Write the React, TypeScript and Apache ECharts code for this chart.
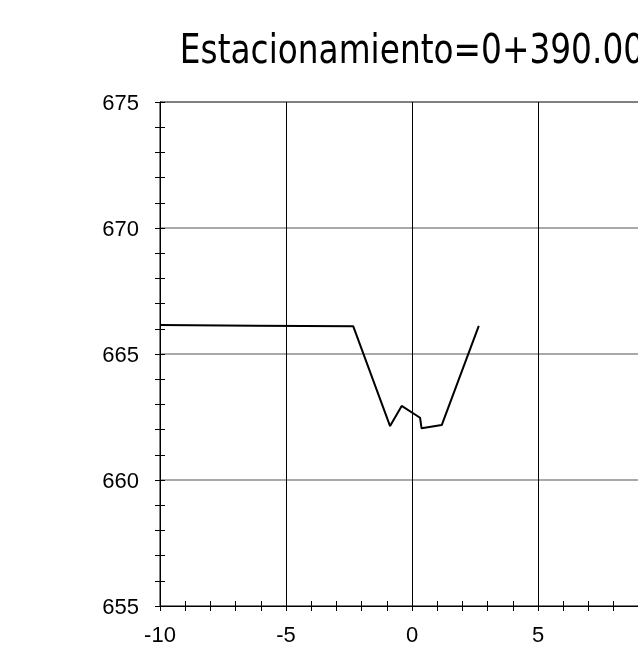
import React, { useEffect, useRef } from "react";
import * as echarts from "echarts";

const titleText = "Estacionamiento=0+390.00";
const offsets = [-10, -2.33, -0.87, -0.41, 0.32, 0.38, 1.18, 2.65];
const elevations = [666.15, 666.1, 662.14, 662.94, 662.47, 662.05, 662.18, 666.12];
const xRange = [-10, 10];
const yRange = [655, 675];

export default function App() {
  const ref = useRef<HTMLDivElement>(null);
  useEffect(() => {
    if (!ref.current) return;
    const chart = echarts.init(ref.current, null, { renderer: "svg" });
    const labelStyle = { color: "#000", fontSize: 22, fontFamily: "Liberation Sans, Arial, sans-serif" };
    const tickStyle = { color: "#000", width: 1 };
    chart.setOption({
      animation: false,
      graphic: [
        {
          type: "text",
          x: 412,
          y: 49,
          scaleX: 0.82,
          scaleY: 1,
          style: {
            text: titleText,
            font: "40px 'DejaVu Sans'",
            fill: "#000",
            textAlign: "center",
            textVerticalAlign: "middle",
          },
        },
      ],
      grid: {
        left: 160, top: 102, width: 504, height: 504,
        show: true, borderColor: "#000", borderWidth: 1,
        outerBoundsMode: "none", containLabel: false,
      },
      xAxis: [
        {
          type: "value", min: xRange[0], max: xRange[1], interval: 5,
          axisLine: { onZero: false, lineStyle: { color: "#000", width: 1 } },
          axisTick: { show: true, length: 5, lineStyle: tickStyle },
          minorTick: { show: true, splitNumber: 5, length: 5, lineStyle: tickStyle },
          splitLine: { show: true, lineStyle: { color: "#000", width: 1 } },
          axisLabel: { ...labelStyle, margin: 17 },
        },
        {
          type: "value", min: xRange[0], max: xRange[1], interval: 5, position: "bottom",
          axisLine: { show: false, onZero: false },
          axisTick: { show: true, inside: true, length: 5, lineStyle: tickStyle },
          minorTick: { show: true, splitNumber: 5, length: 5, lineStyle: tickStyle },
          splitLine: { show: false },
          axisLabel: { show: false },
        },
      ],
      yAxis: [
        {
          type: "value", min: yRange[0], max: yRange[1], interval: 5,
          axisLine: { show: true, onZero: false, lineStyle: { color: "#000", width: 1 } },
          axisTick: { show: true, length: 5, lineStyle: tickStyle },
          minorTick: { show: true, splitNumber: 5, length: 5, lineStyle: tickStyle },
          splitLine: { show: true, showMinLine: false, showMaxLine: false, lineStyle: { color: "#8c8c8c", width: 1.5 } },
          axisLabel: { ...labelStyle, margin: 21 },
        },
        {
          type: "value", min: yRange[0], max: yRange[1], interval: 5, position: "left",
          axisLine: { show: false, onZero: false },
          axisTick: { show: true, inside: true, length: 5, lineStyle: tickStyle },
          minorTick: { show: true, splitNumber: 5, length: 5, lineStyle: tickStyle },
          splitLine: { show: false },
          axisLabel: { show: false },
        },
      ],
      series: [
        {
          type: "line",
          xAxisIndex: 0,
          yAxisIndex: 0,
          data: offsets.map((x, i) => [x, elevations[i]]),
          symbol: "none",
          lineStyle: { color: "#000", width: 2 },
        },
      ],
    });
    return () => chart.dispose();
  }, []);
  return <div ref={ref} style={{ position: "fixed", left: 0, top: 0, width: 638, height: 654 }} />;
}
